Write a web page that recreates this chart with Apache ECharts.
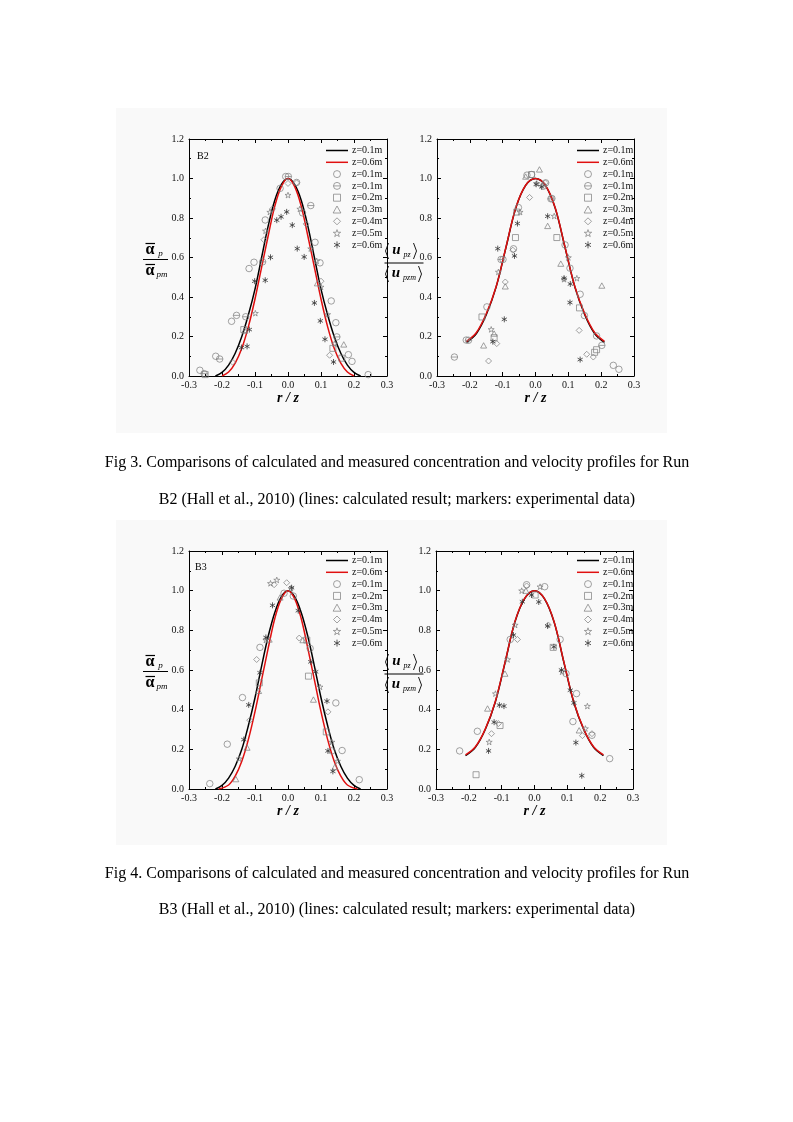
<!DOCTYPE html>
<html><head><meta charset="utf-8">
<script src="https://cdn.jsdelivr.net/npm/echarts@6/dist/echarts.min.js"></script>
<style>html,body{margin:0;padding:0;background:#fff}#c{width:793px;height:1122px}</style>
</head><body><div id="c"></div><script>
// ---------- data ----------
const xTickMin = -0.3, xTickMax = 0.3, xTickStep = 0.1;
const yTickMin = 0, yTickMax = 1.2, yTickStep = 0.2;

// calculated profiles
const xB2conc01 = [-0.22,-0.20,-0.18,-0.16,-0.14,-0.12,-0.10,-0.08,-0.06,-0.04,-0.02,0,0.02,0.04,0.06,0.08,0.10,0.12,0.14,0.16,0.18,0.20,0.22];
const yB2conc01 = [0.0,0.018,0.055,0.115,0.20,0.31,0.44,0.60,0.76,0.89,0.97,1.0,0.97,0.89,0.76,0.60,0.44,0.31,0.20,0.115,0.055,0.018,0.0];
const xB2conc06 = [-0.20,-0.18,-0.16,-0.14,-0.12,-0.10,-0.08,-0.06,-0.04,-0.02,0,0.02,0.04,0.06,0.08,0.10,0.12,0.14,0.16,0.18,0.20];
const yB2conc06 = [0.0,0.02,0.065,0.14,0.25,0.39,0.55,0.71,0.86,0.96,1.0,0.96,0.86,0.71,0.55,0.39,0.25,0.14,0.065,0.02,0.0];
const xB2vel = [-0.21,-0.18,-0.15,-0.12,-0.09,-0.06,-0.03,0,0.03,0.06,0.09,0.12,0.15,0.18,0.21];
const yB2vel01 = [0.17,0.215,0.31,0.45,0.65,0.85,0.965,1.0,0.965,0.85,0.65,0.45,0.31,0.215,0.17];
const yB2vel06 = [0.175,0.22,0.315,0.452,0.652,0.852,0.966,1.0,0.966,0.852,0.652,0.452,0.315,0.22,0.175];
const xB3conc01 = [-0.22,-0.20,-0.18,-0.16,-0.14,-0.12,-0.10,-0.08,-0.06,-0.04,-0.02,0,0.02,0.04,0.06,0.08,0.10,0.12,0.14,0.16,0.18,0.20,0.22];
const yB3conc01 = [0.0,0.018,0.055,0.115,0.20,0.32,0.46,0.62,0.77,0.89,0.97,1.0,0.97,0.89,0.77,0.62,0.46,0.32,0.20,0.115,0.055,0.018,0.0];
const xB3conc06 = [-0.21,-0.18,-0.16,-0.14,-0.12,-0.10,-0.08,-0.06,-0.04,-0.02,0,0.02,0.04,0.06,0.08,0.10,0.12,0.14,0.16,0.18,0.21];
const yB3conc06 = [0.0,0.02,0.065,0.14,0.25,0.39,0.55,0.71,0.86,0.96,1.0,0.96,0.86,0.71,0.55,0.39,0.25,0.14,0.065,0.02,0.0];
const xB3vel = [-0.21,-0.18,-0.15,-0.12,-0.09,-0.06,-0.03,0,0.03,0.06,0.09,0.12,0.15,0.18,0.21];
const yB3vel01 = [0.168,0.21,0.30,0.435,0.635,0.84,0.96,1.0,0.96,0.84,0.635,0.435,0.30,0.21,0.168];
const yB3vel06 = [0.172,0.213,0.302,0.437,0.637,0.842,0.961,1.0,0.961,0.842,0.637,0.437,0.302,0.213,0.172];

// measured data, Run B2 concentration
const B2cCircle = [[-0.267,0.029],[-0.219,0.10],[-0.171,0.277],[-0.118,0.544],[-0.103,0.576],[-0.069,0.79],[-0.024,0.95],[-0.007,1.01],[0.026,0.98],[0.044,0.826],[0.082,0.677],[0.097,0.573],[0.131,0.38],[0.145,0.27],[0.183,0.108],[0.194,0.074],[0.243,0.007]];
const B2cTheta = [[-0.254,0.012],[-0.207,0.086],[-0.156,0.307],[-0.128,0.30],[-0.077,0.578],[0.001,1.01],[0.069,0.863],[0.148,0.198]];
const B2cSquare = [[-0.251,0.007],[-0.134,0.235],[0.136,0.14],[0.163,0.09]];
const B2cTriangle = [[-0.131,0.23],[0.089,0.47],[0.169,0.16]];
const B2cDiamond = [[-0.168,0.07],[-0.073,0.69],[-0.047,0.846],[0.0,0.975],[0.026,0.978],[0.055,0.77],[0.1,0.48],[0.126,0.105]];
const B2cStar = [[-0.099,0.318],[-0.068,0.735],[-0.055,0.83],[0.0,0.916],[0.036,0.846],[0.069,0.645],[0.087,0.583],[0.1,0.451],[0.12,0.312],[0.141,0.164]];
const B2cAster = [[-0.141,0.144],[-0.124,0.15],[-0.117,0.235],[-0.101,0.48],[-0.069,0.485],[-0.053,0.601],[-0.034,0.789],[-0.021,0.806],[-0.004,0.831],[0.013,0.764],[0.028,0.645],[0.049,0.603],[0.08,0.37],[0.098,0.279],[0.112,0.186],[0.138,0.071]];
// Run B2 velocity
const B2vCircle = [[-0.211,0.182],[-0.148,0.35],[-0.099,0.59],[-0.067,0.644],[-0.052,0.853],[-0.026,1.017],[-0.012,1.02],[0.031,0.978],[0.05,0.899],[0.09,0.664],[0.105,0.546],[0.136,0.414],[0.149,0.306],[0.186,0.203],[0.237,0.054],[0.254,0.034]];
const B2vTheta = [[-0.247,0.096],[-0.204,0.181],[-0.105,0.59],[0.024,0.961],[0.047,0.897],[0.202,0.155]];
const B2vSquare = [[-0.163,0.299],[-0.126,0.194],[-0.061,0.701],[-0.057,0.83],[-0.012,1.02],[0.065,0.701],[0.134,0.345],[0.18,0.12],[0.186,0.133]];
const B2vTriangle = [[-0.158,0.155],[-0.126,0.215],[-0.092,0.454],[-0.03,1.01],[0.012,1.046],[0.037,0.76],[0.077,0.569],[0.202,0.458]];
const B2vDiamond = [[-0.143,0.076],[-0.118,0.164],[-0.092,0.476],[-0.069,0.637],[-0.018,0.904],[0.03,0.978],[0.133,0.231],[0.156,0.11],[0.176,0.096]];
const B2vStar = [[-0.135,0.236],[-0.113,0.527],[-0.047,0.83],[0.004,0.975],[0.057,0.81],[0.087,0.49],[0.1,0.6],[0.126,0.495]];
const B2vAster = [[-0.13,0.174],[-0.115,0.645],[-0.095,0.287],[-0.064,0.608],[-0.055,0.772],[0.002,0.971],[0.019,0.958],[0.037,0.809],[0.087,0.495],[0.105,0.372],[0.106,0.466],[0.136,0.083]];
// Run B3 concentration
const B3cCircle = [[-0.237,0.027],[-0.184,0.226],[-0.138,0.461],[-0.085,0.714],[-0.012,0.987],[0.016,0.973],[0.067,0.709],[0.133,0.192],[0.145,0.434],[0.164,0.194],[0.216,0.047]];
const B3cSquare = [[-0.087,0.535],[0.057,0.751],[0.062,0.569],[0.116,0.288]];
const B3cTriangle = [[-0.158,0.05],[-0.124,0.209],[-0.089,0.495],[-0.057,0.754],[-0.024,0.966],[0.045,0.751],[0.077,0.451],[0.142,0.111]];
const B3cDiamond = [[-0.116,0.347],[-0.095,0.653],[-0.042,1.03],[-0.004,1.04],[0.034,0.761],[0.121,0.389]];
const B3cStar = [[-0.148,0.153],[-0.067,0.751],[-0.053,1.037],[-0.034,1.054],[0.009,1.012],[0.097,0.515],[0.133,0.237],[0.15,0.141]];
const B3cAster = [[-0.134,0.249],[-0.119,0.424],[-0.085,0.586],[-0.067,0.764],[-0.047,0.926],[0.011,1.015],[0.031,0.899],[0.069,0.641],[0.084,0.591],[0.118,0.443],[0.121,0.192],[0.136,0.089]];
// Run B3 velocity
const B3vCircle = [[-0.228,0.192],[-0.174,0.291],[-0.074,0.754],[-0.024,1.03],[0.031,1.02],[0.078,0.754],[0.096,0.582],[0.117,0.34],[0.128,0.481],[0.175,0.271],[0.229,0.153]];
const B3vSquare = [[-0.178,0.072],[-0.105,0.32],[0.002,0.978],[0.057,0.714]];
const B3vTriangle = [[-0.143,0.406],[-0.09,0.582],[-0.026,1.0],[0.136,0.296]];
const B3vDiamond = [[-0.131,0.279],[-0.11,0.33],[-0.052,0.754],[-0.024,1.024],[0.042,0.827],[0.146,0.269],[0.175,0.279]];
const B3vStar = [[-0.138,0.237],[-0.119,0.481],[-0.082,0.653],[-0.059,0.827],[-0.039,1.0],[0.017,1.02],[0.084,0.591],[0.155,0.305],[0.161,0.418]];
const B3vAster = [[-0.14,0.192],[-0.123,0.337],[-0.107,0.423],[-0.093,0.418],[-0.064,0.776],[-0.037,0.944],[-0.009,0.978],[0.013,0.943],[0.04,0.822],[0.059,0.717],[0.082,0.6],[0.109,0.498],[0.12,0.434],[0.126,0.234],[0.144,0.067]];

const legendLine01 = 'z=0.1m', legendLine06 = 'z=0.6m';
const legendMarkers = ['z=0.1m', 'z=0.1m', 'z=0.2m', 'z=0.3m', 'z=0.4m', 'z=0.5m', 'z=0.6m'];
const captionFig3 = ['Fig 3. Comparisons of calculated and measured concentration and velocity profiles for Run',
  'B2 (Hall et al., 2010) (lines: calculated result; markers: experimental data)'];
const captionFig4 = ['Fig 4. Comparisons of calculated and measured concentration and velocity profiles for Run',
  'B3 (Hall et al., 2010) (lines: calculated result; markers: experimental data)'];

// ---------- styling ----------
const SERIF = 'Liberation Serif';
const GRAY = '#7d7d7d';
const RED = '#e01010';
const SYM = {
  circle: 'circle',
  theta: 'path://M0,5 A5,5 0 1,1 10,5 A5,5 0 1,1 0,5 Z M0,5 L10,5',
  square: 'path://M0,0 L10,0 L10,10 L0,10 Z',
  triangle: 'path://M5,0 L10,9 L0,9 Z',
  diamond: 'path://M5,0 L10,5 L5,10 L0,5 Z',
  star: 'path://M5,0 L6.2,3.6 L10,3.6 L6.9,5.9 L8.1,9.5 L5,7.3 L1.9,9.5 L3.1,5.9 L0,3.6 L3.8,3.6 Z',
  aster: 'path://M5,0 L5,10 M0.7,2.5 L9.3,7.5 M0.7,7.5 L9.3,2.5'
};
const ZW = '\u200b';
const NM = {
  circle: legendMarkers[0] + ZW, theta: legendMarkers[1] + ZW + ZW, square: legendMarkers[2],
  triangle: legendMarkers[3], diamond: legendMarkers[4], star: legendMarkers[5], aster: legendMarkers[6] + ZW
};
const markerStyle = key => key === 'aster'
  ? {color: 'transparent', borderColor: '#333', borderWidth: 1}
  : {color: 'transparent', borderColor: GRAY, borderWidth: 0.9};

const grids = [
  {left: 189, top: 139, width: 198, height: 237},
  {left: 437, top: 139, width: 197, height: 237},
  {left: 189, top: 551, width: 198, height: 238},
  {left: 436, top: 551, width: 197, height: 238}
];
const fmt = v => (Math.abs(v) < 1e-9 ? 0 : v).toFixed(1);
const xAxes = [], yAxes = [];
grids.forEach((g, i) => {
  const common = {gridIndex: i, type: 'value', splitLine: {show: false},
    axisLine: {onZero: false, lineStyle: {color: '#000', width: 1}},
    axisTick: {inside: true, length: 4, lineStyle: {color: '#000', width: 1}},
    minorTick: {show: true, splitNumber: 2, length: 2, lineStyle: {color: '#000', width: 1}}};
  xAxes.push(Object.assign({}, common, {min: xTickMin, max: xTickMax, interval: xTickStep, position: 'bottom',
    axisLabel: {fontFamily: SERIF, fontSize: 10, color: '#111', margin: 4, formatter: fmt},
    name: 'r / z', nameLocation: 'middle', nameGap: 15,
    nameTextStyle: {fontFamily: SERIF, fontSize: 14, fontWeight: 'bold', fontStyle: 'italic', color: '#000'}}));
  xAxes.push(Object.assign({}, common, {min: xTickMin, max: xTickMax, interval: xTickStep, position: 'top', axisLabel: {show: false}}));
  yAxes.push(Object.assign({}, common, {min: yTickMin, max: yTickMax, interval: yTickStep, position: 'left',
    axisLabel: {fontFamily: SERIF, fontSize: 10, color: '#111', margin: 5, formatter: fmt}}));
  yAxes.push(Object.assign({}, common, {min: yTickMin, max: yTickMax, interval: yTickStep, position: 'right', axisLabel: {show: false}}));
});

const series = [];
function lineS(name, xs, ys, color, gi) {
  series.push({type: 'line', name, xAxisIndex: 2 * gi, yAxisIndex: 2 * gi, data: xs.map((x, k) => [x, ys[k]]),
    smooth: 0.35, symbol: 'none', showSymbol: false, lineStyle: {color, width: 1.5}, itemStyle: {color}, z: 3, silent: true});
}
function scat(key, data, gi) {
  series.push({type: 'scatter', name: NM[key], xAxisIndex: 2 * gi, yAxisIndex: 2 * gi, data,
    symbol: SYM[key], symbolSize: key === 'circle' || key === 'theta' ? 6.5 : 6, symbolKeepAspect: true,
    itemStyle: markerStyle(key), z: 4, silent: true});
}
lineS(legendLine01, xB2conc01, yB2conc01, '#000', 0);
lineS(legendLine06, xB2conc06, yB2conc06, RED, 0);
scat('circle', B2cCircle, 0); scat('theta', B2cTheta, 0); scat('square', B2cSquare, 0); scat('triangle', B2cTriangle, 0);
scat('diamond', B2cDiamond, 0); scat('star', B2cStar, 0); scat('aster', B2cAster, 0);
lineS(legendLine01, xB2vel, yB2vel01, '#000', 1);
lineS(legendLine06, xB2vel, yB2vel06, RED, 1);
scat('circle', B2vCircle, 1); scat('theta', B2vTheta, 1); scat('square', B2vSquare, 1); scat('triangle', B2vTriangle, 1);
scat('diamond', B2vDiamond, 1); scat('star', B2vStar, 1); scat('aster', B2vAster, 1);
lineS(legendLine01, xB3conc01, yB3conc01, '#000', 2);
lineS(legendLine06, xB3conc06, yB3conc06, RED, 2);
scat('circle', B3cCircle, 2); scat('square', B3cSquare, 2); scat('triangle', B3cTriangle, 2);
scat('diamond', B3cDiamond, 2); scat('star', B3cStar, 2); scat('aster', B3cAster, 2);
lineS(legendLine01, xB3vel, yB3vel01, '#000', 3);
lineS(legendLine06, xB3vel, yB3vel06, RED, 3);
scat('circle', B3vCircle, 3); scat('square', B3vSquare, 3); scat('triangle', B3vTriangle, 3);
scat('diamond', B3vDiamond, 3); scat('star', B3vStar, 3); scat('aster', B3vAster, 3);

const LINE_ICON = 'path://M0,0 L22,0 L22,1.5 L0,1.5 Z';
const lineItem = (name, color) => ({name, icon: LINE_ICON, itemStyle: {color, borderWidth: 0}});
const markItem = key => ({name: NM[key], icon: SYM[key], itemStyle: markerStyle(key)});
const legB2 = [lineItem(legendLine01, '#000'), lineItem(legendLine06, RED),
  markItem('circle'), markItem('theta'), markItem('square'), markItem('triangle'), markItem('diamond'), markItem('star'), markItem('aster')];
const legB3 = [lineItem(legendLine01, '#000'), lineItem(legendLine06, RED),
  markItem('circle'), markItem('square'), markItem('triangle'), markItem('diamond'), markItem('star'), markItem('aster')];
function legend(left, top, data) {
  return {left, top, orient: 'vertical', padding: 0, itemWidth: 22, itemHeight: 7, itemGap: 1.8,
    symbolKeepAspect: true, selectedMode: false, data, formatter: n => n.replace(/\u200b/g, ''),
    textStyle: {fontFamily: SERIF, fontSize: 10, lineHeight: 10, color: '#111', padding: [0, 0, 0, -1]}};
}

// ---------- graphics (captions, axis titles, backgrounds) ----------
const graphic = [];
graphic.push({type: 'rect', shape: {x: 116, y: 108, width: 551, height: 325}, style: {fill: '#f9f9f9'}, z: -10, silent: true});
graphic.push({type: 'rect', shape: {x: 116, y: 520, width: 551, height: 325}, style: {fill: '#f9f9f9'}, z: -10, silent: true});
function txt(x, y, text, size, opts) {
  graphic.push({type: 'text', x, y, silent: true, z: 20, style: Object.assign({text, fontFamily: SERIF, fontSize: size,
    fill: '#000', align: 'center', verticalAlign: 'middle'}, opts || {})});
}
function ln(points, w) {
  graphic.push({type: 'polyline', silent: true, z: 20, shape: {points}, style: {stroke: '#000', lineWidth: w || 1, fill: null}});
}
txt(397, 463, captionFig3[0], 16); txt(397, 500, captionFig3[1], 16);
txt(397, 874, captionFig4[0], 16); txt(397, 910, captionFig4[1], 16);
txt(197, 156, 'B2', 10, {align: 'left'});
txt(195, 567, 'B3', 10, {align: 'left'});
function alphaLabel(dy) {
  txt(150, 250 + dy, 'α', 16, {fontWeight: 'bold'});
  ln([[145.5, 243.5 + dy], [155, 243.5 + dy]], 1.2);
  txt(160.5, 254 + dy, 'p', 9, {fontStyle: 'italic'});
  ln([[143, 259.5 + dy], [168, 259.5 + dy]], 1);
  txt(150, 271 + dy, 'α', 16, {fontWeight: 'bold'});
  ln([[145.5, 264.5 + dy], [155, 264.5 + dy]], 1.2);
  txt(162, 275 + dy, 'pm', 9, {fontStyle: 'italic'});
}
function uLabel(x0, dy) {
  ln([[x0 + 4, 243 + dy], [x0 + 1, 251 + dy], [x0 + 4, 259 + dy]], 0.9);
  txt(x0 + 12, 250 + dy, 'u', 15, {fontWeight: 'bold', fontStyle: 'italic'});
  txt(x0 + 22.5, 255 + dy, 'pz', 8, {fontStyle: 'italic'});
  ln([[x0 + 29, 243 + dy], [x0 + 32, 251 + dy], [x0 + 29, 259 + dy]], 0.9);
  ln([[x0, 263 + dy], [x0 + 39, 263 + dy]], 1);
  ln([[x0 + 4, 266 + dy], [x0 + 1, 274 + dy], [x0 + 4, 282 + dy]], 0.9);
  txt(x0 + 11.5, 273 + dy, 'u', 15, {fontWeight: 'bold', fontStyle: 'italic'});
  txt(x0 + 25, 278 + dy, 'pzm', 8, {fontStyle: 'italic'});
  ln([[x0 + 34, 266 + dy], [x0 + 37, 274 + dy], [x0 + 34, 282 + dy]], 0.9);
}
alphaLabel(0); alphaLabel(412);
uLabel(384.5, 0); uLabel(384.5, 411);

const chart = echarts.init(document.getElementById('c'), null, {renderer: 'canvas'});
chart.setOption({
  animation: false,
  backgroundColor: '#fff',
  grid: grids,
  xAxis: xAxes,
  yAxis: yAxes,
  legend: [legend(326, 145.5, legB2), legend(577, 145.5, legB2), legend(326, 555.5, legB3), legend(577, 555.5, legB3)],
  series,
  graphic
});
</script></body></html>
